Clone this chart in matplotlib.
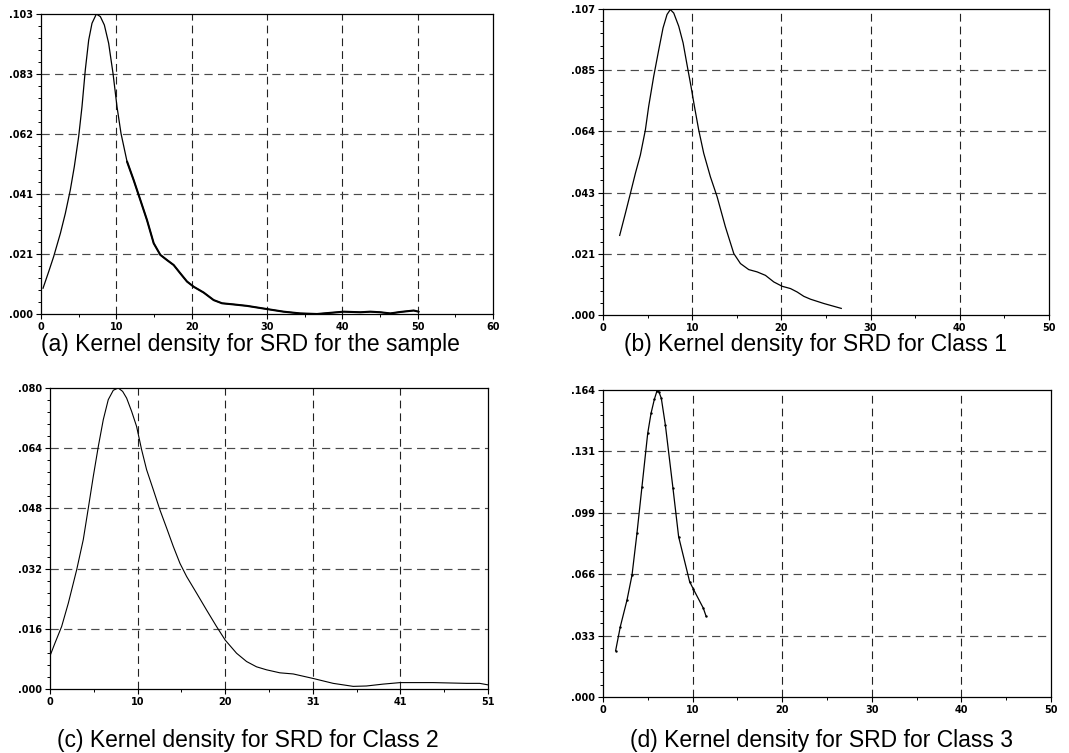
"""Kernel density of SRD: whole sample and three classes, 2x2 panels."""

import matplotlib
matplotlib.use("Agg")
import matplotlib.pyplot as plt
from matplotlib.ticker import FixedLocator, AutoMinorLocator
import numpy as np

plt.rcParams["font.family"] = ["Liberation Sans", "DejaVu Sans"]

# ---------------------------------------------------------------------------
# data
# ---------------------------------------------------------------------------
a_x = [0.27, 1.02, 1.68, 2.57, 3.23, 3.89, 4.42, 5.0, 5.44, 5.88, 6.33, 6.77,
       7.35, 7.88, 8.41, 8.98, 9.56, 10.09, 10.62, 11.42, 12.3, 13.19, 14.07,
       14.96, 15.84, 16.73, 17.61, 18.5, 19.38, 20.27, 21.59, 22.92, 24.03,
       25.58, 27.35, 30.0, 32.21, 34.42, 36.64, 38.85, 40.18, 42.39, 43.72,
       45.04, 46.37, 47.7, 49.47, 50.13]
a_y = [0.0089, 0.0146, 0.0198, 0.0278, 0.0347, 0.0428, 0.0508, 0.0612, 0.0715,
       0.0842, 0.0945, 0.1003, 0.1035, 0.1026, 0.0997, 0.0934, 0.0830, 0.0715,
       0.0623, 0.0526, 0.0462, 0.0393, 0.0324, 0.0244, 0.0204, 0.0186, 0.0169,
       0.0140, 0.0112, 0.0094, 0.0074, 0.0048, 0.0037, 0.0033, 0.0028, 0.0017,
       0.0008, 0.0002, 0.0000, 0.0005, 0.0008, 0.0006, 0.0008, 0.0006, 0.0002,
       0.0007, 0.0012, 0.0008]

b_x = [1.87, 2.51, 3.07, 3.63, 4.19, 4.75, 5.12, 5.68, 6.25, 6.73, 7.18, 7.55,
       7.93, 8.49, 8.98, 9.42, 9.87, 10.25, 10.73, 11.29, 12.04, 12.79, 13.72,
       14.66, 15.41, 16.34, 17.28, 18.21, 19.15, 20.08, 21.02, 21.77, 22.51,
       23.26, 24.76, 26.71]
b_y = [0.0277, 0.0354, 0.0423, 0.0493, 0.0557, 0.0644, 0.0726, 0.0830, 0.0923,
       0.0999, 0.1046, 0.1063, 0.1051, 0.1005, 0.0947, 0.0871, 0.0795, 0.0726,
       0.0644, 0.0563, 0.0481, 0.0412, 0.0307, 0.0214, 0.0179, 0.0158, 0.0150,
       0.0138, 0.0115, 0.0100, 0.0092, 0.0080, 0.0065, 0.0055, 0.0040, 0.0023]

c_x = [0.0, 0.58, 1.36, 2.14, 3.12, 3.89, 4.48, 5.06, 5.65, 6.23, 6.81, 7.40,
       7.98, 8.49, 8.96, 9.54, 10.12, 10.71, 11.29, 12.07, 12.85, 13.63, 14.41,
       15.19, 15.97, 17.13, 18.30, 19.47, 20.48, 21.81, 22.98, 24.14, 25.31,
       26.87, 28.43, 30.76, 33.10, 35.44, 36.99, 38.94, 40.93, 42.83, 44.78,
       46.73, 48.68, 50.23, 51.2]
c_y = [0.0088, 0.0122, 0.0166, 0.0228, 0.0317, 0.0397, 0.0481, 0.0565, 0.0645,
       0.0716, 0.0769, 0.0794, 0.0800, 0.0791, 0.0773, 0.0738, 0.0698, 0.0636,
       0.0583, 0.0530, 0.0476, 0.0428, 0.0379, 0.0334, 0.0299, 0.0255, 0.0210,
       0.0166, 0.0130, 0.0095, 0.0073, 0.0059, 0.0051, 0.0043, 0.0040, 0.0028,
       0.0015, 0.0007, 0.0008, 0.0013, 0.0017, 0.0017, 0.0017, 0.0016, 0.0015,
       0.0015, 0.0011]

d_x = [1.41, 1.93, 2.68, 3.24, 3.79, 4.35, 4.99, 5.36, 5.73, 6.03, 6.25, 6.51,
       6.96, 7.81, 8.44, 9.67, 10.1, 11.2, 11.5]
d_y = [0.0248, 0.0376, 0.0519, 0.0653, 0.0876, 0.1126, 0.1411, 0.1518, 0.1593,
       0.1639, 0.1632, 0.1598, 0.1456, 0.1117, 0.0858, 0.0617, 0.0576, 0.0475,
       0.0433]

# axis ranges and tick labels
a_xmax, a_ymax = 60, 0.1035
b_xmax, b_ymax = 50, 0.1065
c_xmax, c_ymax = 51.2, 0.080
d_xmax, d_ymax = 50, 0.1643

a_xlabels = ["0", "10", "20", "30", "40", "50", "60"]
b_xlabels = ["0", "10", "20", "30", "40", "50"]
c_xlabels = ["0", "10", "20", "31", "41", "51"]
d_xlabels = ["0", "10", "20", "30", "40", "50"]

a_ylabels = [".000", ".021", ".041", ".062", ".083", ".103"]
b_ylabels = [".000", ".021", ".043", ".064", ".085", ".107"]
c_ylabels = [".000", ".016", ".032", ".048", ".064", ".080"]
d_ylabels = [".000", ".033", ".066", ".099", ".131", ".164"]

captions = ["(a) Kernel density for SRD for the sample",
            "(b) Kernel density for SRD for Class 1",
            "(c) Kernel density for SRD for Class 2",
            "(d) Kernel density for SRD for Class 3"]

W, H = 1069, 753


def px_rect(left, top, right, bottom):
    return [left / W, 1 - bottom / H, (right - left) / W, (bottom - top) / H]


def style_axes(ax, xmax, ymax, xlabels, ylabels):
    ax.set_xlim(0, xmax)
    ax.set_ylim(0, ymax)
    xt = np.linspace(0, xmax, len(xlabels))
    yt = np.linspace(0, ymax, len(ylabels))
    ax.xaxis.set_major_locator(FixedLocator(xt))
    ax.yaxis.set_major_locator(FixedLocator(yt))
    ax.set_xticklabels(xlabels)
    ax.set_yticklabels(ylabels)
    ax.xaxis.set_minor_locator(AutoMinorLocator(2))
    ax.yaxis.set_minor_locator(AutoMinorLocator(5))
    ax.tick_params(which="major", direction="out", length=3.5, width=0.8,
                   labelsize=7, pad=2.5)
    ax.tick_params(which="minor", direction="out", length=2, width=0.7)
    ax.tick_params(axis="both", which="both", top=False, right=False)
    for lab in ax.get_xticklabels() + ax.get_yticklabels():
        lab.set_fontweight("bold")
        lab.set_family("DejaVu Sans")
    for s in ax.spines.values():
        s.set_linewidth(0.9)
        s.set_color("black")
    # inner grid lines only (edges are the frame)
    for x in xt[1:-1]:
        ax.axvline(x, color="#222222", lw=0.8, ls=(0, (7, 4.5)), zorder=1)
    for y in yt[1:-1]:
        ax.axhline(y, color="#4a4a4a", lw=0.85, ls=(0, (7, 4.5)), zorder=1)


fig = plt.figure(figsize=(W / 100, H / 100), dpi=100)

ax_a = fig.add_axes(px_rect(41, 14, 493, 314))
ax_b = fig.add_axes(px_rect(603, 9, 1049, 315))
ax_c = fig.add_axes(px_rect(50, 388, 488, 689))
ax_d = fig.add_axes(px_rect(603, 390, 1051, 697))

style_axes(ax_a, a_xmax, a_ymax, a_xlabels, a_ylabels)
style_axes(ax_b, b_xmax, b_ymax, b_xlabels, b_ylabels)
style_axes(ax_c, c_xmax, c_ymax, c_xlabels, c_ylabels)
style_axes(ax_d, d_xmax, d_ymax, d_xlabels, d_ylabels)

ax_a.plot(a_x, a_y, color="black", lw=0.9, zorder=3)
# the tail of the sample curve is drawn heavier in the original
tail = [i for i, x in enumerate(a_x) if x >= 11.4]
ax_a.plot([a_x[i] for i in tail], [a_y[i] for i in tail], color="black",
          lw=1.5, zorder=3, solid_capstyle="round")
ax_b.plot(b_x, b_y, color="black", lw=0.9, zorder=3)
ax_c.plot(c_x, c_y, color="black", lw=0.8, zorder=3)
ax_d.plot(d_x, d_y, color="black", lw=0.9, zorder=3, marker="s", ms=0.7)

for (cx, cy), txt in zip([(250, 345), (815, 345), (248, 740), (822, 740)], captions):
    fig.text(cx / W, 1 - cy / H, txt, ha="center", va="center", fontsize=16.5)

plt.savefig("out.png", dpi=100)
plt.close(fig)
print("saved out.png")
